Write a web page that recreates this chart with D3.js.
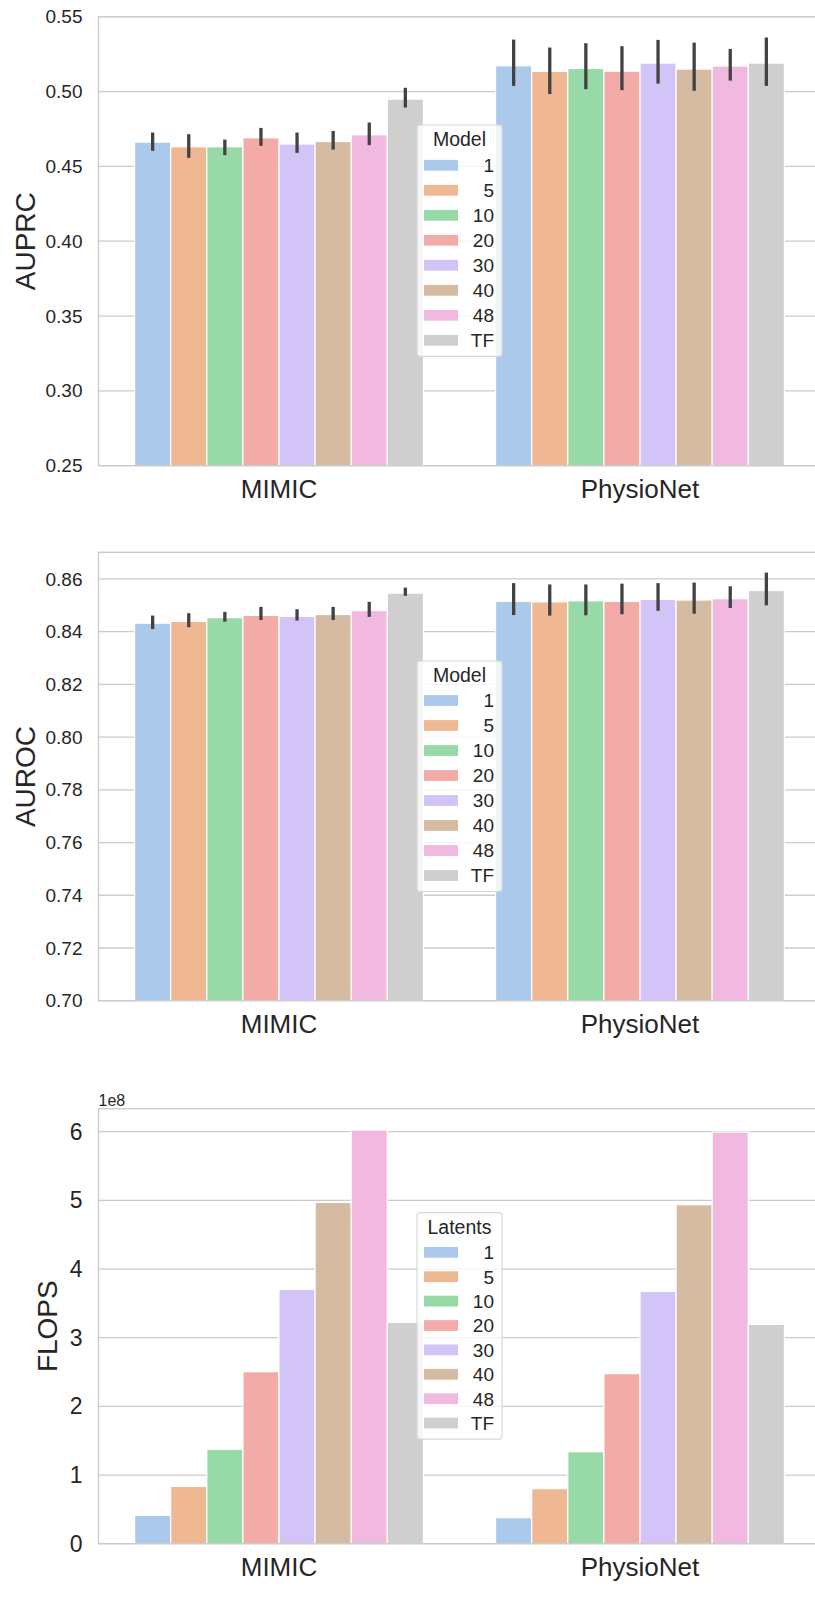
<!DOCTYPE html>
<html>
<head>
<meta charset="utf-8">
<script src="https://cdn.jsdelivr.net/npm/d3@7"></script>
<style>
  body { margin: 0; background: #fff; }
  svg { display: block; overflow: hidden; }
  text { font-family: "Liberation Sans", Arial, sans-serif; fill: #262626; }
</style>
</head>
<body>
<svg id="chart" width="815" height="1598"></svg>
<script>
// categories
var datasets = ["MIMIC", "PhysioNet"];
var models = ["1", "5", "10", "20", "30", "40", "48", "TF"];
var basePalette = ["#a1c9f4", "#ffb482", "#8de5a1", "#ff9f9b", "#d0bbff", "#debb9b", "#fab0e4", "#cfcfcf"];

// AUPRC (mean + 95% CI)
var auprcMimic = [0.4662, 0.4631, 0.4631, 0.4691, 0.4649, 0.4666, 0.4711, 0.4949];
var auprcMimicCI = [[0.4604, 0.4726], [0.4557, 0.4715], [0.4575, 0.4679], [0.4637, 0.4757],
                    [0.4590, 0.4726], [0.4612, 0.4737], [0.4642, 0.4793], [0.4893, 0.5025]];
var auprcPhysio = [0.5172, 0.5134, 0.5154, 0.5136, 0.5190, 0.5150, 0.5170, 0.5190];
var auprcPhysioCI = [[0.5038, 0.5347], [0.4983, 0.5294], [0.5016, 0.5323], [0.5009, 0.5303],
                     [0.5053, 0.5345], [0.5005, 0.5327], [0.5073, 0.5285], [0.5038, 0.5361]];

// AUROC
var aurocMimic = [0.8432, 0.8439, 0.8453, 0.8462, 0.8458, 0.8465, 0.8480, 0.8546];
var aurocMimicCI = [[0.8410, 0.8461], [0.8417, 0.8470], [0.8438, 0.8475], [0.8444, 0.8494],
                    [0.8442, 0.8485], [0.8444, 0.8494], [0.8456, 0.8513], [0.8536, 0.8567]];
var aurocPhysio = [0.8515, 0.8513, 0.8517, 0.8515, 0.8522, 0.8520, 0.8525, 0.8556];
var aurocPhysioCI = [[0.8463, 0.8584], [0.8461, 0.8579], [0.8462, 0.8579], [0.8466, 0.8582],
                     [0.8479, 0.8584], [0.8468, 0.8586], [0.8490, 0.8572], [0.8500, 0.8624]];

// FLOPS, in units of 1e8
var flopsMimic = [0.413, 0.836, 1.375, 2.505, 3.705, 4.971, 6.024, 3.224];
var flopsPhysio = [0.379, 0.801, 1.340, 2.476, 3.675, 4.937, 5.995, 3.195];

var auprcTicks = [0.25, 0.30, 0.35, 0.40, 0.45, 0.50, 0.55];
var aurocTicks = [0.70, 0.72, 0.74, 0.76, 0.78, 0.80, 0.82, 0.84, 0.86];
var flopsTicks = [0, 1, 2, 3, 4, 5, 6];

// seaborn barplot desaturates to 0.75
var palette = basePalette.map(function (c) {
  var h = d3.hsl(c); h.s *= 0.75; return h.formatHex();
});
var color = d3.scaleOrdinal().domain(models).range(palette);

var svg = d3.select("#chart");
var gridColor = "#cccccc";

var x0 = d3.scaleBand().domain(datasets).range([98.5, 820.5]);
var x1 = d3.scaleBand().domain(models).range([0, x0.bandwidth() * 0.8]);

function panel(opt) {
  var g = svg.append("g");
  var y = d3.scaleLinear().domain(opt.domain).range([opt.bottom, opt.top]);

  // grid
  g.append("g").selectAll("line").data(opt.ticks).enter().append("line")
    .attr("x1", 98.5).attr("x2", 815)
    .attr("y1", d => y(d)).attr("y2", d => y(d))
    .attr("stroke", gridColor).attr("stroke-width", 1.3);

  // y axis
  var yAxis = d3.axisLeft(y).tickValues(opt.ticks).tickFormat(opt.fmt).tickSize(0).tickPadding(16);
  var ya = g.append("g").attr("transform", "translate(98.5,0)").call(yAxis);
  ya.select(".domain").remove();
  ya.selectAll("text").style("font-size", opt.tickSize + "px").attr("fill", "#262626")
    .style("font-family", "'Liberation Sans', Arial, sans-serif");

  // bars
  var rows = [];
  datasets.forEach(function (ds, di) {
    models.forEach(function (m, mi) {
      rows.push({ds: ds, m: m, v: opt.values[di][mi], ci: opt.ci ? opt.ci[di][mi] : null});
    });
  });
  var off = x0.bandwidth() * 0.1;
  g.append("g").selectAll("rect").data(rows).enter().append("rect")
    .attr("x", d => x0(d.ds) + off + x1(d.m))
    .attr("width", x1.bandwidth())
    .attr("y", d => y(d.v))
    .attr("height", d => opt.bottom - y(d.v))
    .attr("fill", d => color(d.m))
    .attr("stroke", "#fff").attr("stroke-width", 1.2);

  if (opt.ci) {
    g.append("g").selectAll("line").data(rows).enter().append("line")
      .attr("x1", d => x0(d.ds) + off + x1(d.m) + x1.bandwidth() / 2)
      .attr("x2", d => x0(d.ds) + off + x1(d.m) + x1.bandwidth() / 2)
      .attr("y1", d => y(d.ci[0])).attr("y2", d => y(d.ci[1]))
      .attr("stroke", "#424242").attr("stroke-width", 3.3);
  }

  // spines
  g.append("rect").attr("x", 98.5).attr("y", opt.top)
    .attr("width", 722).attr("height", opt.bottom - opt.top)
    .attr("fill", "none").attr("stroke", gridColor).attr("stroke-width", 1.4);

  // x tick labels
  var xAxis = d3.axisBottom(x0).tickSize(0).tickPadding(14);
  var xa = g.append("g").attr("transform", "translate(0," + opt.bottom + ")").call(xAxis);
  xa.select(".domain").remove();
  xa.selectAll("text").style("font-size", "26px").attr("fill", "#262626")
    .style("font-family", "'Liberation Sans', Arial, sans-serif");

  // y label
  g.append("text")
    .attr("transform", "translate(" + opt.labelX + "," + ((opt.top + opt.bottom) / 2) + ") rotate(-90)")
    .attr("text-anchor", "middle").attr("dy", "0.35em")
    .style("font-size", "28px").text(opt.label);

  if (opt.offsetText) {
    g.append("text").attr("x", 98.5).attr("y", opt.top - 3)
      .style("font-size", "16px").text(opt.offsetText);
  }

  // legend
  var L = opt.legend;
  var lg = g.append("g");
  lg.append("rect").attr("x", 417).attr("y", L.top).attr("width", 85)
    .attr("height", L.first + L.step * 7 + 16).attr("rx", 3)
    .attr("fill", "#fff").attr("fill-opacity", 0.8)
    .attr("stroke", "#d8d8d8").attr("stroke-width", 1.2);
  lg.append("text").attr("x", 459.5).attr("y", L.top + 14).attr("dy", "0.36em")
    .attr("text-anchor", "middle").style("font-size", "19.5px").text(L.title);
  var items = lg.selectAll("g.item").data(models).enter().append("g")
    .attr("transform", (d, i) => "translate(0," + (L.top + L.first + i * L.step) + ")");
  items.append("rect").attr("x", 424).attr("y", -5.4).attr("width", 34).attr("height", 10.8)
    .attr("fill", d => color(d));
  items.append("text").attr("x", 494).attr("dy", "0.36em").attr("text-anchor", "end")
    .style("font-size", "19px").text(d => d);
}

panel({
  top: 16.7, bottom: 465.7, domain: [0.25, 0.55], ticks: auprcTicks, fmt: d3.format(".2f"),
  tickSize: 19, values: [auprcMimic, auprcPhysio], ci: [auprcMimicCI, auprcPhysioCI],
  label: "AUPRC", labelX: 25,
  legend: {title: "Model", top: 125, first: 40.3, step: 25}
});

panel({
  top: 552.3, bottom: 1000.7, domain: [0.70, 0.8701], ticks: aurocTicks, fmt: d3.format(".2f"),
  tickSize: 19, values: [aurocMimic, aurocPhysio], ci: [aurocMimicCI, aurocPhysioCI],
  label: "AUROC", labelX: 25,
  legend: {title: "Model", top: 661, first: 39.5, step: 25}
});

panel({
  top: 1108.7, bottom: 1543.7, domain: [0, 6.335], ticks: flopsTicks, fmt: d3.format("d"),
  tickSize: 23, values: [flopsMimic, flopsPhysio], ci: null,
  label: "FLOPS", labelX: 47, offsetText: "1e8",
  legend: {title: "Latents", top: 1212.7, first: 39.6, step: 24.4}
});
</script>
</body>
</html>
